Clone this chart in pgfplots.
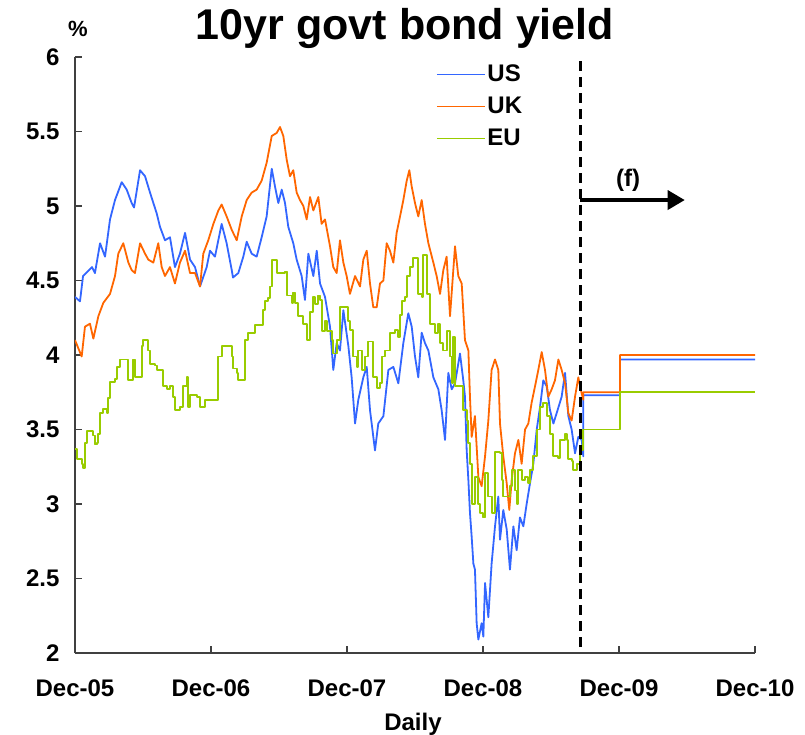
\documentclass[border=0pt]{standalone}
\usepackage{fontspec}
\setmainfont{Liberation Sans}
\usepackage{pgfplots}
\pgfplotsset{compat=1.18}
\usetikzlibrary{arrows.meta}

\definecolor{usblue}{RGB}{51,102,255}
\definecolor{ukorange}{RGB}{255,102,0}
\definecolor{eugreen}{RGB}{153,204,0}

% months since Dec-05; yields in %
\begin{document}
\begin{tikzpicture}
\path[use as bounding box] (-75pt,-81pt) rectangle (730pt,653pt);
\begin{axis}[
  scale only axis,
  width=680pt, height=596pt,
  xmin=0, xmax=60, ymin=2, ymax=6,
  axis x line=bottom, axis y line=left,
  axis line style={-, line width=1.3pt, black!75},
  tick align=inside,
  major tick length=7pt,
  tick style={line width=1.2pt, black!75},
  xtick={0,12,24,36,48,60},
  xticklabels={Dec-05,Dec-06,Dec-07,Dec-08,Dec-09,Dec-10},
  ytick={2,2.5,3,3.5,4,4.5,5,5.5,6},
  yticklabels={2,2.5,3,3.5,4,4.5,5,5.5,6},
  tick label style={font=\fontsize{24}{28}\selectfont\bfseries},
  xticklabel style={yshift=-23pt},
  yticklabel style={xshift=-12pt},
  legend style={draw=none, fill=none, at={(0.531,0.99)}, anchor=north west,
    font=\fontsize{24}{28}\selectfont\bfseries, row sep=10pt, inner sep=0pt,
    nodes={inner sep=2pt}},
  legend cell align=left,
  legend image code/.code={\draw[#1] (0pt,0pt) -- (48pt,0pt);},
  line join=round,
]
% US
\addplot[forget plot, usblue, line width=1.8pt] coordinates {
(0.00,4.39) (0.44,4.36) (0.71,4.53) (1.50,4.59) (1.76,4.55) (2.21,4.75) (2.65,4.66)
(3.09,4.91) (3.53,5.04) (4.12,5.16) (4.56,5.11) (5.00,5.02) (5.21,4.99) (5.74,5.24)
(6.18,5.20) (6.62,5.09) (7.21,4.95) (7.50,4.86) (7.94,4.77) (8.38,4.79) (8.82,4.59)
(9.26,4.68) (9.71,4.82) (10.15,4.64) (10.59,4.59) (11.03,4.46) (11.62,4.59) (11.91,4.70)
(12.35,4.66) (12.94,4.88) (13.38,4.75) (13.83,4.57) (13.94,4.52) (14.41,4.55) (14.85,4.66)
(15.15,4.76) (15.59,4.68) (16.03,4.66) (16.47,4.79) (16.91,4.93) (17.36,5.25) (17.65,5.13)
(17.94,5.02) (18.24,5.11) (18.53,5.02) (18.82,4.86) (19.26,4.75) (19.56,4.64) (20.00,4.53)
(20.29,4.37) (20.59,4.68) (21.03,4.53) (21.33,4.70) (21.62,4.48) (22.06,4.39) (22.50,4.19)
(22.79,3.90) (23.09,4.08) (23.38,4.03) (23.68,4.30) (24.12,4.06) (24.41,3.85) (24.71,3.54)
(25.00,3.70) (25.44,3.85) (25.74,3.92) (26.03,3.63) (26.47,3.36) (26.76,3.54) (27.21,3.59)
(27.65,3.90) (28.09,3.92) (28.53,3.81) (28.97,4.08) (29.41,4.28) (29.71,4.19) (30.00,3.99)
(30.29,3.85) (30.59,4.15) (30.88,4.08) (31.18,4.03) (31.62,3.85) (32.06,3.77) (32.35,3.63)
(32.65,3.43) (32.94,3.88) (33.24,3.77) (33.53,3.81) (33.97,4.01) (34.26,3.83) (34.41,3.72)
(34.56,3.36) (34.71,3.16) (34.85,2.94) (35.00,2.78) (35.15,2.60) (35.29,2.56) (35.44,2.20)
(35.59,2.09) (35.88,2.20) (36.03,2.11) (36.18,2.47) (36.47,2.24) (36.76,2.60) (37.06,2.85)
(37.35,3.05) (37.50,2.76) (37.79,2.96) (38.09,2.83) (38.38,2.56) (38.68,2.85) (38.97,2.69)
(39.26,2.91) (39.56,2.85) (39.85,3.00) (40.15,3.14) (40.44,3.27) (40.74,3.50) (41.03,3.65)
(41.32,3.83) (41.62,3.79) (41.91,3.63) (42.21,3.54) (42.50,3.61) (42.94,3.72) (43.24,3.88)
(43.53,3.59) (43.82,3.50) (44.12,3.34) (44.41,3.45) (44.71,3.43) (44.85,3.32)
(44.85,3.73) (48.09,3.73) (48.09,3.97) (60,3.97)
};
% UK
\addplot[forget plot, ukorange, line width=1.8pt] coordinates {
(0.00,4.10) (0.59,3.99) (0.88,4.19) (1.32,4.21) (1.62,4.11) (2.06,4.26) (2.50,4.35)
(3.09,4.41) (3.53,4.53) (3.82,4.68) (4.26,4.75) (4.71,4.62) (5.00,4.57) (5.29,4.55)
(5.74,4.75) (6.18,4.68) (6.47,4.64) (6.91,4.62) (7.35,4.75) (7.65,4.59) (7.94,4.53)
(8.38,4.59) (8.82,4.48) (9.26,4.62) (9.71,4.70) (10.15,4.55) (10.59,4.55) (11.03,4.46)
(11.32,4.68) (11.76,4.77) (12.21,4.88) (12.65,4.97) (12.94,5.01) (13.38,4.93) (13.83,4.84)
(14.27,4.77) (14.71,4.93) (15.15,5.04) (15.59,5.09) (16.03,5.11) (16.47,5.17) (16.91,5.29)
(17.36,5.47) (17.79,5.49) (18.09,5.53) (18.38,5.47) (18.68,5.31) (18.97,5.20) (19.26,5.24)
(19.56,5.09) (19.85,5.04) (20.15,5.00) (20.44,4.91) (20.74,5.06) (21.03,4.97) (21.47,5.06)
(21.76,4.88) (22.06,4.91) (22.50,4.73) (22.79,4.59) (23.09,4.55) (23.38,4.77) (23.68,4.62)
(23.97,4.53) (24.26,4.41) (24.71,4.53) (25.15,4.46) (25.44,4.64) (25.74,4.70) (26.03,4.48)
(26.32,4.32) (26.62,4.32) (26.91,4.48) (27.21,4.50) (27.50,4.75) (27.79,4.70) (28.09,4.62)
(28.38,4.82) (28.68,4.93) (28.97,5.04) (29.27,5.17) (29.50,5.24) (29.71,5.13) (30.00,5.02)
(30.29,4.93) (30.59,5.04) (30.88,4.88) (31.18,4.75) (31.62,4.62) (31.91,4.53) (32.21,4.41)
(32.50,4.57) (32.79,4.66) (33.09,4.26) (33.53,4.73) (33.82,4.53) (34.12,4.48) (34.41,4.10)
(34.71,4.03) (34.85,3.72) (35.00,3.45) (35.29,3.59) (35.59,3.18) (35.88,3.12) (36.18,3.32)
(36.47,3.56) (36.76,3.90) (37.06,3.97) (37.35,3.90) (37.50,3.54) (37.79,3.32) (38.09,3.14)
(38.32,2.96) (38.53,3.16) (38.82,3.34) (39.12,3.43) (39.41,3.27) (39.71,3.50) (40.00,3.54)
(40.29,3.68) (40.59,3.79) (40.88,3.90) (41.18,4.02) (41.47,3.90) (41.76,3.72) (42.06,3.77)
(42.35,3.83) (42.65,3.97) (42.94,3.90) (43.24,3.81) (43.53,3.61) (43.82,3.56) (44.12,3.72)
(44.41,3.85) (44.71,3.74) (44.85,3.70)
(44.85,3.75) (48.09,3.75) (48.09,4.00) (60,4.00)
};
% EU (weekly fixings, stepped)
\addplot[forget plot, eugreen, line width=1.8pt, const plot] coordinates {
(0.00,3.37) (0.15,3.30) (0.59,3.27) (0.73,3.24) (0.88,3.41) (1.03,3.49) (1.62,3.46)
(1.76,3.40) (1.91,3.41) (2.06,3.47) (2.21,3.61) (2.50,3.64) (2.79,3.61) (2.94,3.71)
(3.09,3.82) (3.53,3.84) (3.68,3.92) (3.97,3.97) (4.56,3.97) (4.71,3.83) (5.00,3.83)
(5.15,3.97) (5.29,3.85) (5.74,3.85) (5.88,4.06) (6.03,4.10) (6.32,4.10) (6.47,4.03)
(6.62,3.94) (7.06,3.93) (7.21,3.90) (7.65,3.90) (7.79,3.79) (8.09,3.77) (8.38,3.79)
(8.68,3.72) (8.82,3.63) (9.26,3.65) (9.56,3.79) (9.85,3.85) (10.00,3.65) (10.15,3.73)
(10.74,3.72) (11.03,3.65) (11.32,3.65) (11.47,3.70) (12.50,3.70) (12.65,3.99) (12.94,4.06)
(13.68,4.06) (13.83,3.99) (13.97,3.91) (14.27,3.88) (14.41,3.83) (14.85,3.83) (15.00,4.10)
(15.29,4.15) (15.74,4.15) (15.88,4.20) (16.47,4.20) (16.62,4.30) (16.76,4.36) (17.06,4.38)
(17.21,4.46) (17.36,4.64) (17.79,4.64) (17.85,4.55) (18.53,4.56) (18.68,4.40) (18.97,4.40)
(19.12,4.35) (19.26,4.42) (19.41,4.35) (19.71,4.26) (20.15,4.21) (20.44,4.10) (20.59,4.10)
(20.74,4.29) (21.03,4.39) (21.18,4.34) (21.47,4.40) (21.62,4.37) (21.76,4.16) (22.06,4.23)
(22.21,4.16) (22.50,4.16) (22.65,4.10) (22.79,4.01) (23.09,4.10) (23.24,4.10) (23.38,4.32)
(23.97,4.32) (24.12,4.23) (24.26,4.17) (24.56,3.99) (24.85,3.92) (25.00,4.03) (25.29,3.90)
(25.59,3.99) (25.88,4.09) (26.18,4.09) (26.32,3.85) (26.62,3.78) (26.91,3.81) (27.06,3.99)
(27.35,4.03) (27.65,4.03) (27.79,4.15) (28.24,4.17) (28.53,4.12) (28.68,4.27) (28.82,4.36)
(29.12,4.39) (29.27,4.53) (29.56,4.59) (29.85,4.65) (30.15,4.65) (30.29,4.41) (30.59,4.39)
(30.74,4.67) (30.88,4.67) (31.03,4.41) (31.32,4.21) (31.76,4.15) (32.06,4.21) (32.21,4.08)
(32.50,4.03) (32.79,4.16) (33.09,3.99) (33.24,3.81) (33.38,4.12) (33.53,3.79) (34.12,3.79)
(34.26,3.63) (34.56,3.56) (34.71,3.41) (34.85,3.27) (35.00,3.00) (35.29,3.18) (35.59,3.00)
(35.74,2.94) (36.03,2.91) (36.18,3.21) (36.47,3.05) (36.76,2.94) (37.06,3.35) (37.50,3.34)
(37.65,3.16) (37.79,3.05) (38.09,3.05) (38.38,3.12) (38.53,3.23) (38.82,3.09) (38.97,3.00)
(39.12,3.23) (39.41,3.16) (39.71,3.18) (40.00,3.14) (40.15,3.23) (40.44,3.32) (40.74,3.50)
(41.03,3.65) (41.32,3.68) (41.62,3.59) (41.91,3.47) (42.21,3.32) (42.65,3.31) (42.79,3.43)
(43.24,3.47) (43.38,3.43) (43.53,3.30) (43.82,3.29) (43.97,3.23) (44.26,3.27) (44.56,3.36)
(44.85,3.50) (48.09,3.75) (60,3.75)
};
\addlegendimage{usblue, line width=1.2pt}
\addlegendentry{US}
\addlegendimage{ukorange, line width=1.2pt}
\addlegendentry{UK}
\addlegendimage{eugreen, line width=1.2pt}
\addlegendentry{EU}
% start of forecast period
\addplot[forget plot, black, line width=3.5pt, dash pattern=on 10pt off 6pt] coordinates {(44.6,5.97) (44.6,2.02)};
\draw[black, line width=3.5pt, -{Triangle[length=17pt,width=19pt]}] (axis cs:44.6,5.04) -- (axis cs:53.8,5.04);
\node[font=\fontsize{24}{28}\selectfont\bfseries] at (axis cs:48.8,5.17) {(f)};
\end{axis}
\node[font=\fontsize{43}{50}\selectfont\bfseries] at (330pt,625pt) {10yr govt bond yield};
\node[font=\fontsize{22}{26}\selectfont\bfseries] at (3pt,624pt) {\%};
\node[font=\fontsize{24}{28}\selectfont\bfseries] at (338pt,-71pt) {Daily};
\end{tikzpicture}
\end{document}
